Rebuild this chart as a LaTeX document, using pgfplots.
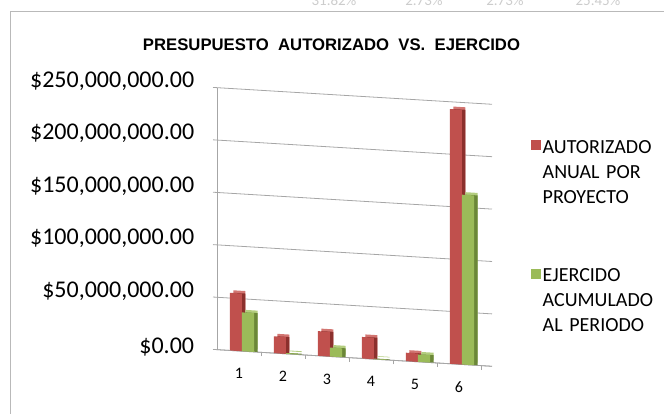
\documentclass[border=0pt]{standalone}
\usepackage{pgfplots}
\usepackage{pgfplotstable}
\pgfplotsset{compat=1.18}
\usepackage{fontspec}
\setmainfont{Carlito}
\newfontfamily\arialfont{Liberation Sans}
\definecolor{rfront}{HTML}{C0504D}
\definecolor{rtop}{HTML}{D27571}
\definecolor{rside}{HTML}{8C302D}
\definecolor{gfront}{HTML}{9BBB59}
\definecolor{gtop}{HTML}{B3CD7E}
\definecolor{gside}{HTML}{6B8738}
\definecolor{gridc}{HTML}{A6A6A6}

% AUTORIZADO ANUAL POR PROYECTO (millones): 55, 16, 23.5, 20.5, 8, 243
\pgfplotstableread{
x y
-0.205 0
0.068 0
0.068 55
-0.205 55
nan nan
0.795 0
1.068 0
1.068 16
0.795 16
nan nan
1.795 0
2.068 0
2.068 23.5
1.795 23.5
nan nan
2.795 0
3.068 0
3.068 20.5
2.795 20.5
nan nan
3.795 0
4.068 0
4.068 8
3.795 8
nan nan
4.795 0
5.068 0
5.068 243
4.795 243
}\redbars
% EJERCIDO ACUMULADO AL PERIODO (millones): 37, 0.8, 8.5, 0.5, 7, 162
\pgfplotstableread{
x y
0.068 0
0.341 0
0.341 37
0.068 37
nan nan
1.068 0
1.341 0
1.341 0.8
1.068 0.8
nan nan
2.068 0
2.341 0
2.341 8.5
2.068 8.5
nan nan
3.068 0
3.341 0
3.341 0.5
3.068 0.5
nan nan
4.068 0
4.341 0
4.341 7
4.068 7
nan nan
5.068 0
5.341 0
5.341 162
5.068 162
}\greenbars

\begin{document}
\begin{tikzpicture}[x=1pt,y=1pt]
\path[use as bounding box] (0,0) rectangle (664,414);
\begin{scope}
\clip (0,0) rectangle (664,414);
\draw[gray!55, line width=1pt] (10,-2) -- (10,402) -- (670,402);
\foreach \xx/\lab in {334/31.82, 424/2.73, 505/2.73, 598/25.45}
  \node[anchor=base, text=gray!40, font=\fontsize{15}{15}\selectfont, inner sep=0pt] at (\xx,408) {\lab\%};
\end{scope}
\node[anchor=base, inner sep=0pt, font=\arialfont\bfseries\fontsize{16.7}{17}\selectfont] at (331.5,363) {PRESUPUESTO~~AUTORIZADO~~VS.~~EJERCIDO};
\begin{axis}[
  at={(239pt,63pt)}, anchor=origin,
  x={(44pt,-2.66pt)}, y={(0pt,1.048pt)},
  xmin=-0.5, xmax=5.75, ymin=0, ymax=250,
  unbounded coords=jump,
  axis x line*=bottom, axis y line*=left,
  axis line style={gridc, line width=0.8pt},
  ymajorgrids, major grid style={gridc, line width=0.8pt},
  ytick={0,50,...,250},
  yticklabels={{\$0.00},{\$50,000,000.00},{\$100,000,000.00},{\$150,000,000.00},{\$200,000,000.00},{\$250,000,000.00}},
  yticklabel style={font=\fontsize{24}{24}\selectfont},
  yticklabel shift=15.4pt,
  xtick={0,...,5}, xticklabels={1,2,3,4,5,6},
  xticklabel style={font=\fontsize{16}{16}\selectfont},
  xticklabel shift=10pt,
  minor xtick={0.5,1.5,...,5.5},
  tick align=outside,
  major tick length=4pt, minor tick length=4pt,
  tick style={gridc, line width=0.8pt},
  major x tick style={draw=none},
  clip=false,
  legend style={at={(1.1407,0.818)}, anchor=north west, draw=none, fill=none,
    inner sep=0pt, outer sep=0pt, row sep=110pt,
    font=\fontsize{20}{25}\selectfont,
    cells={anchor=base west, inner xsep=5.3pt, inner ysep=0pt, text width=115pt, align=left}},
  legend image code/.code={\fill[#1] (0pt,3pt) rectangle (10pt,13pt);},
]
% red 3D faces
\addplot[fill=rtop, draw=none, xshift=3.5pt, yshift=2.5pt, forget plot] table {\redbars};
\addplot[fill=rside, draw=none, xshift=3.5pt, forget plot] table {\redbars};
\addplot[fill=rfront, draw=none] table {\redbars};
\addlegendentry{AUTORIZADO\\ANUAL POR\\PROYECTO}
% green 3D faces
\addplot[fill=gtop, draw=none, xshift=3.5pt, yshift=2.5pt, forget plot] table {\greenbars};
\addplot[fill=gside, draw=none, xshift=3.5pt, forget plot] table {\greenbars};
\addplot[fill=gfront, draw=none] table {\greenbars};
\addlegendentry{EJERCIDO\\ACUMULADO\\AL PERIODO}
\end{axis}
\end{tikzpicture}
\end{document}
